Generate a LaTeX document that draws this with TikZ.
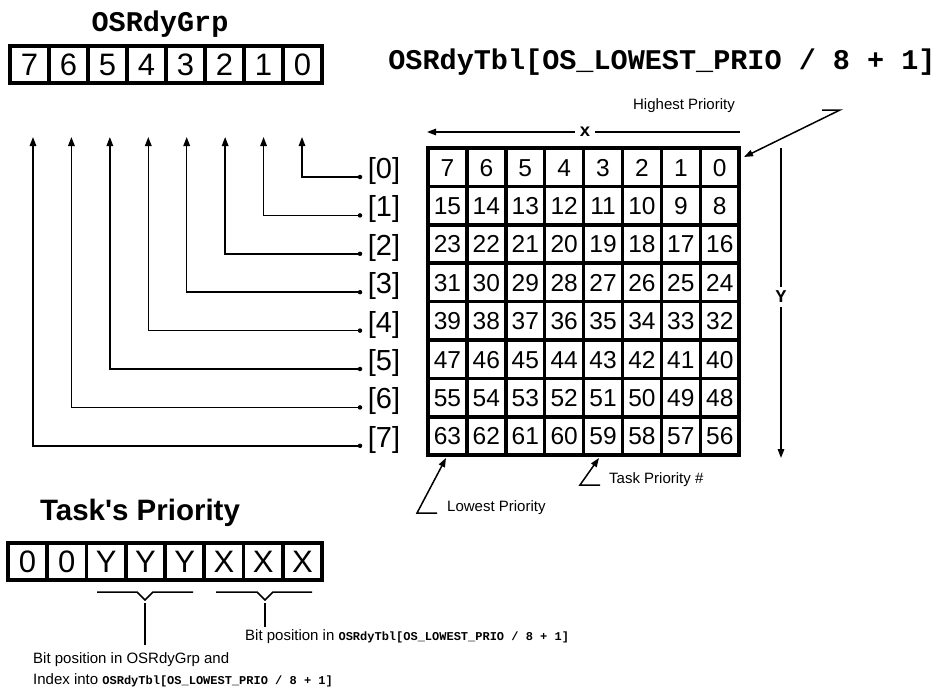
\documentclass[tikz,border=0pt]{standalone}
\usepackage{fontspec}
\setmainfont{Liberation Sans}
\setmonofont{Liberation Mono}
\usetikzlibrary{arrows.meta,positioning}

\begin{document}
\begin{tikzpicture}[x=1pt,y=-1pt,
    bitcell/.style={draw,line width=3.5pt,inner sep=0pt,outer sep=0pt,
      text height=22.2pt,text depth=0pt,
      minimum width=39pt,minimum height=37pt,font=\fontsize{31}{31}\selectfont},
    tblcell/.style={draw,line width=3.5pt,inner sep=0pt,outer sep=0pt,
      text height=17.6pt,text depth=0pt,
      minimum width=38.9pt,minimum height=38.4pt,font=\fontsize{24.5}{24.5}\selectfont},
    codetitle/.style={font=\fontsize{28.5}{30}\ttfamily\bfseries},
    axislbl/.style={font=\fontsize{18}{18}\ttfamily\bfseries,inner sep=4pt},
    note/.style={font=\fontsize{15}{17}\selectfont,inner sep=0pt},
    arr/.style={line width=1.5pt,-{Triangle[length=9pt,width=6.5pt]}},
    thin/.style={line width=1.5pt},
    dot/.style={circle,fill,inner sep=0pt,minimum size=4.5pt}]
  \useasboundingbox (0,0) rectangle (944,686);

  % OSRdyGrp
  \node[codetitle] (grptitle) at (160,24) {OSRdyGrp};
  \foreach \b [count=\c from 0] in {7,...,0}
    \node[bitcell] (grp-\b) at ({29.5+39*\c},64.5) {\b};

  % OSRdyTbl
  \node[codetitle] (tbltitle) at (662,62) {OSRdyTbl[OS\_LOWEST\_PRIO / 8 + 1]};
  \foreach \r in {0,...,7}
    \foreach \c in {0,...,7}{
      \pgfmathtruncatemacro{\prio}{8*\r+7-\c}
      \node[tblcell] (tbl-\r-\c) at ({447.45+38.9*\c},{167.2+38.4*\r}) {\prio};
    }

  % index lines into OSRdyGrp
  \foreach \i in {0,...,7}{
    \node[font=\fontsize{29}{29}\selectfont,inner sep=0pt] (idx-\i) at (384,{171+38.4*\i}) {[\i]};
    \node[dot] (dot-\i) at (360,{177+38.4*\i}) {};
    \coordinate (up-\i) at ({302-38.43*\i},137);
    \draw[arr] (dot-\i) -| (up-\i);
  }

  % x and Y axes
  \node[axislbl] (xlbl) at (585,132) {x};
  \coordinate (xleft) at (427,132);
  \coordinate (xright) at (740,132);
  \draw[arr] (xlbl.west) -- (xleft);
  \draw[thin] (xlbl.east) -- (xright);
  \node[axislbl] (ylbl) at (781,297) {Y};
  \coordinate (ytop) at (781,148);
  \coordinate (ybot) at (781,458);
  \draw[thin] (ylbl.north) -- (ytop);
  \draw[arr] (ylbl.south) -- (ybot);

  % pointers
  \node[note] (highest) at (684,106) {Highest Priority};
  \draw[arr] (822,110) -- (840,110) -- (744,157);
  \node[note,anchor=west] (lowest) at (447,508) {Lowest Priority};
  \draw[arr] (437,513) -- (417,513) -- (446,458);
  \node[note,anchor=west] (taskprio) at (609,480) {Task Priority \#};
  \draw[arr] (600,485) -- (580,485) -- (599,458);

  % Task's Priority
  \node[font=\fontsize{29.5}{29.5}\bfseries\selectfont] (tasktitle) at (140,513)
    {Task\XeTeXglyph\XeTeXcharglyph"0027 s Priority};
  \foreach \t [count=\c from 0] in {0,0,Y,Y,Y,X,X,X}
    \node[bitcell] (prio-\c) at ({27.6+39.25*\c},561.5) {\t};

  \draw[thin] (97,592) -- (137,592) -- (145,600) -- (153,592) -- (193,592);
  \draw[thin] (145,603) -- (145,645);
  \draw[thin] (216,592) -- (257,592) -- (265,600) -- (273,592) -- (312,592);
  \draw[thin] (265,603) -- (265,627);

  \node[note,anchor=west] (bitx) at (245,637)
    {Bit position in {\fontsize{12}{12}\ttfamily\bfseries OSRdyTbl[OS\_LOWEST\_PRIO / 8 + 1]}};
  \node[note,anchor=west,align=left,font=\fontsize{15}{21}\selectfont] (bity) at (33,670)
    {Bit position in OSRdyGrp and\\
     Index into {\fontsize{12}{12}\ttfamily\bfseries OSRdyTbl[OS\_LOWEST\_PRIO / 8 + 1]}};
\end{tikzpicture}
\end{document}
